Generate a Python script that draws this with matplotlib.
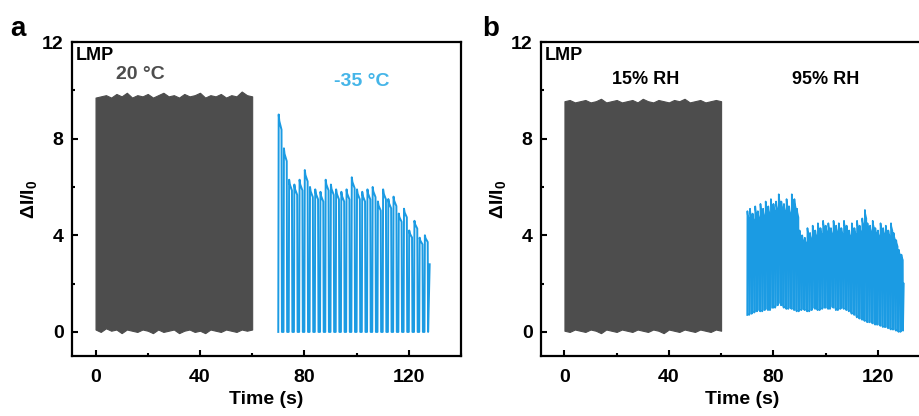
import numpy as np
import matplotlib
matplotlib.use('Agg')
import matplotlib.pyplot as plt
from matplotlib.ticker import MultipleLocator

plt.rcParams['font.family'] = ['Liberation Sans', 'DejaVu Sans']
plt.rcParams['font.weight'] = 'bold'
plt.rcParams['mathtext.fontset'] = 'custom'
plt.rcParams['mathtext.rm'] = 'Liberation Sans:bold'
plt.rcParams['mathtext.bf'] = 'Liberation Sans:bold'
plt.rcParams['mathtext.it'] = 'Liberation Sans:bold'

# %% data

# gray block (dense cycling, drawn as its envelope), sampled every 2 s from 0 to 60 s
gray_t = np.arange(0, 61, 2)
a_gray_top = [9.7, 9.75, 9.8, 9.7, 9.85, 9.75, 9.9, 9.7, 9.8, 9.75, 9.85, 9.7, 9.8, 9.9, 9.75, 9.8,
              9.7, 9.85, 9.75, 9.8, 9.9, 9.7, 9.8, 9.75, 9.85, 9.7, 9.8, 9.75, 9.95, 9.8, 9.75]
a_gray_bot = [0.1, 0.0, 0.15, 0.05, 0.1, -0.05, 0.1, 0.05, 0.0, 0.1, 0.05, -0.05, 0.1, 0.0, 0.05, 0.1,
              -0.05, 0.05, 0.1, 0.0, 0.05, -0.05, 0.1, 0.05, 0.0, 0.1, 0.05, 0.0, 0.1, 0.05, 0.1]
b_gray_top = [9.55, 9.6, 9.5, 9.55, 9.6, 9.5, 9.55, 9.65, 9.5, 9.55, 9.6, 9.5, 9.55, 9.6, 9.5, 9.65,
              9.55, 9.5, 9.6, 9.55, 9.5, 9.6, 9.55, 9.65, 9.5, 9.55, 9.6, 9.5, 9.55, 9.6, 9.55]
b_gray_bot = [0.05, 0.0, 0.1, 0.05, 0.0, 0.1, 0.05, -0.05, 0.1, 0.05, 0.0, 0.1, 0.05, 0.0, 0.1, 0.05,
              0.0, 0.1, 0.05, -0.05, 0.1, 0.05, 0.0, 0.1, 0.05, 0.0, 0.1, 0.05, 0.0, 0.1, 0.05]

# panel a, -35 °C: one peak per 2 s cycle from 70 s, troughs at 0
a_cyan_start = 70.0
a_cyan_period = 2.0
a_cyan_peaks = [9.0, 7.6, 6.3, 6.1, 6.3, 6.7, 6.0, 5.9, 5.8, 6.3, 6.1, 5.9, 5.8, 5.9, 6.4,
                5.9, 5.8, 5.9, 6.0, 5.4, 5.9, 5.5, 5.6, 4.9, 5.1, 4.2, 4.6, 3.9, 4.0]
a_cyan_end = 2.8

# panel b, 95% RH: one cycle per second from 70 s
b_cyan_start = 70.0
b_cyan_period = 1.0
b_cyan_peaks = [5.0, 5.1, 4.9, 5.2, 5.0, 5.3, 5.1, 5.4, 5.2, 5.5,
                5.3, 5.4, 5.7, 5.4, 5.3, 5.5, 5.2, 5.7, 5.5, 5.1,
                4.2, 4.0, 3.9, 4.3, 4.1, 4.4, 4.2, 4.5, 4.3, 4.6,
                4.4, 4.5, 4.3, 4.6, 4.4, 4.5, 4.3, 4.6, 4.4, 4.2,
                4.5, 4.3, 4.6, 4.4, 4.7, 5.05, 4.5, 4.4, 4.6, 4.3,
                4.2, 4.5, 4.3, 4.4, 4.2, 4.5, 4.1, 3.8, 3.4, 3.2]
b_cyan_troughs = [0.7, 0.75, 0.8, 0.85, 0.9, 0.85, 0.9, 0.95, 0.9, 1.0,
                  1.0, 1.1, 1.2, 1.1, 1.0, 0.95, 1.0, 0.95, 0.9, 0.85,
                  0.9, 0.95, 0.9, 0.85, 0.9, 1.0, 0.95, 0.9, 0.95, 1.0,
                  1.0, 0.95, 1.05, 1.0, 0.9, 0.95, 1.0, 0.95, 0.9, 0.85,
                  0.75, 0.7, 0.6, 0.55, 0.5, 0.45, 0.4, 0.4, 0.35, 0.3,
                  0.3, 0.25, 0.2, 0.2, 0.15, 0.1, 0.1, 0.05, 0.0, 0.05]
b_cyan_end = 2.0

GRAY = '#4d4d4d'
CYAN = '#1b9be3'
CYAN_TXT = '#45b5e8'


def cycles(start, period, peaks, troughs, end_value):
    # turn per-cycle peak/trough values into a rise / plateau / fall trace
    t, y = [], []
    for i, (p, lo) in enumerate(zip(peaks, troughs)):
        t0 = start + i * period
        t += [t0, t0 + 0.08 * period, t0 + 0.2 * period, t0 + 0.62 * period, t0 + 0.7 * period]
        y += [lo, p, 0.97 * p, 0.93 * p, lo]
    t.append(start + len(peaks) * period)
    y.append(end_value)
    return t, y


def style(ax, xmax):
    ax.set_xlim(-9, xmax)
    ax.set_ylim(-1, 12)
    ax.xaxis.set_major_locator(MultipleLocator(40))
    ax.xaxis.set_minor_locator(MultipleLocator(20))
    ax.yaxis.set_major_locator(MultipleLocator(4))
    ax.yaxis.set_minor_locator(MultipleLocator(2))
    ax.tick_params(which='both', direction='in', width=1.5, labelsize=14)
    ax.tick_params(axis='x', pad=9)
    ax.tick_params(axis='y', pad=6)
    ax.tick_params(which='major', length=4)
    ax.tick_params(which='minor', length=2.5)
    for s in ax.spines.values():
        s.set_linewidth(1.6)
    for lab in ax.get_xticklabels() + ax.get_yticklabels():
        lab.set_fontweight('bold')
    ax.set_xlabel('Time (s)', fontsize=14, fontweight='bold', labelpad=4)
    ax.set_ylabel(r'$\Delta$I/I$_0$', fontsize=14, fontweight='bold', labelpad=2)
    ax.text(0.01, 0.985, 'LMP', transform=ax.transAxes, ha='left', va='top',
            fontsize=13, fontweight='bold')


fig = plt.figure(figsize=(9.2, 4.16), dpi=100)
ax_a = fig.add_axes((0.0783, 0.144, 0.4228, 0.755))
# panel b runs past the right edge of the figure, as in the original crop
ax_b = fig.add_axes((0.588, 0.144, 0.4228 * 154 / 149, 0.755))

# %% panel a
ax_a.fill_between(gray_t, a_gray_bot, a_gray_top, color=GRAY, lw=0.8, edgecolor=GRAY)
t, y = cycles(a_cyan_start, a_cyan_period, a_cyan_peaks, [0] * len(a_cyan_peaks), a_cyan_end)
ax_a.plot(t, y, color=CYAN, lw=1.4)
style(ax_a, 140)
ax_a.text(17, 10.65, '20 °C', color=GRAY, ha='center', va='center', fontsize=14, fontweight='bold')
ax_a.text(102, 10.35, '-35 °C', color=CYAN_TXT, ha='center', va='center', fontsize=14, fontweight='bold')

# %% panel b
ax_b.fill_between(gray_t, b_gray_bot, b_gray_top, color=GRAY, lw=0.8, edgecolor=GRAY)
t, y = cycles(b_cyan_start, b_cyan_period, b_cyan_peaks, b_cyan_troughs, b_cyan_end)
ax_b.plot(t, y, color=CYAN, lw=1.2)
style(ax_b, 145)
ax_b.text(31, 10.45, '15% RH', color='black', ha='center', va='center', fontsize=13, fontweight='bold')
ax_b.text(100, 10.45, '95% RH', color='black', ha='center', va='center', fontsize=13, fontweight='bold')

fig.text(0.011, 0.93, 'a', fontsize=20, fontweight='bold', ha='left', va='center')
fig.text(0.524, 0.93, 'b', fontsize=20, fontweight='bold', ha='left', va='center')

fig.savefig('out.png', dpi=100)
